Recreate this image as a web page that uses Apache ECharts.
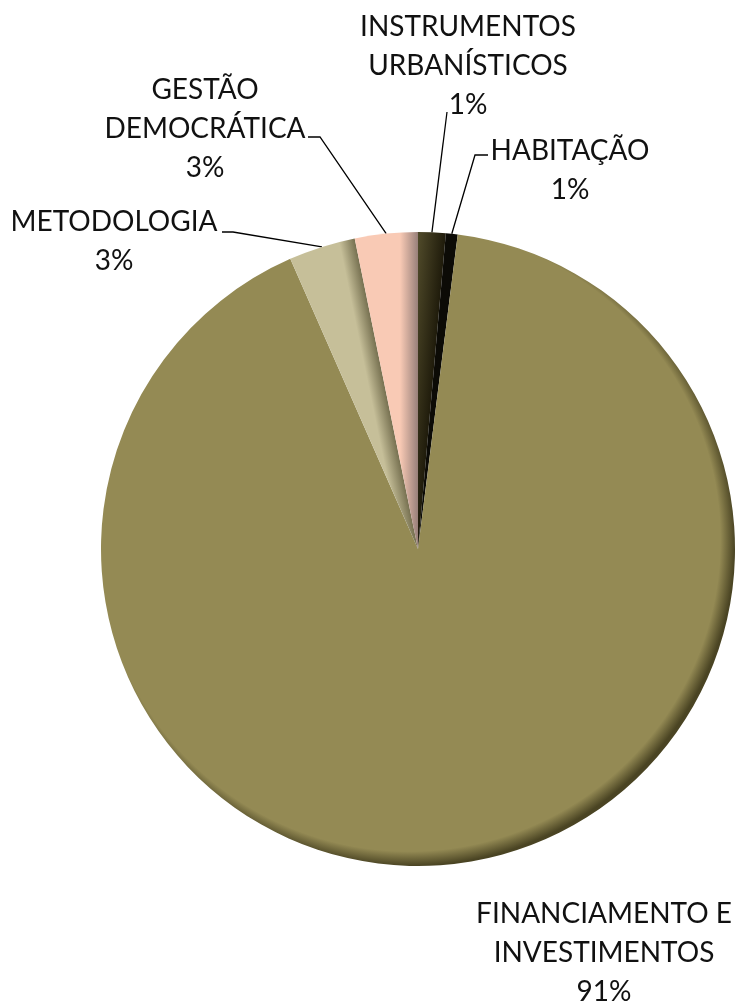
<!DOCTYPE html>
<html>
<head>
<meta charset="utf-8">
<script src="https://cdn.jsdelivr.net/npm/echarts@6/dist/echarts.min.js"></script>
<style>
html,body{margin:0;padding:0;background:#fff;}
#chart{width:737px;height:1005px;}
</style>
</head>
<body>
<div id="chart"></div>
<script>
// ---- data ----
const categories = [
  'INSTRUMENTOS\nURBANÍSTICOS',
  'HABITAÇÃO',
  'FINANCIAMENTO E\nINVESTIMENTOS',
  'METODOLOGIA',
  'GESTÃO\nDEMOCRÁTICA'
];
const values = [1.4, 0.6, 91.4, 3.4, 3.2];

// ---- styling (not data) ----
const baseColors = ['#58522F', '#0C0B06', '#948A54', '#C6BF99', '#F9CAB5'];
const darkColors = ['#1F1B0B', '#000000', '#4A4423', '#767050', '#98807A'];
const edgeWidth  = [32, 0, 0, 16, 18];   // dark band along clockwise edge (px)
const CX = 418, CY = 549, R = 317;
// label block centres and leader-line bends
const labelLayouts = [
  {x: 468, y: 66,  pts: [[447, 112]]},
  {x: 570, y: 170, pts: [[475, 155], [488, 155]]},
  {x: 604, y: 953, pts: null},
  {x: 114, y: 241, pts: [[233, 232], [222, 232]]},
  {x: 205, y: 129, pts: [[320, 137], [308, 137]]}
];

const total = values.reduce((a, b) => a + b, 0);
// clockwise end angle of each slice (deg from 12 o'clock)
const endAngles = [];
values.reduce((acc, v) => { const e = acc + v / total * 360; endAngles.push(e); return e; }, 0);

function sliceColor(i) {
  if (i === 2) {
    return {
      type: 'radial', x: CX - 9, y: CY - 9, r: R + 9, global: true,
      colorStops: [
        {offset: 0, color: baseColors[i]},
        {offset: 0.955, color: baseColors[i]},
        {offset: 1, color: darkColors[i]}
      ]
    };
  }
  if (!edgeWidth[i]) return baseColors[i];
  const a = endAngles[i] * Math.PI / 180;
  const nx = -Math.cos(a), ny = -Math.sin(a);
  const w = edgeWidth[i];
  return {
    type: 'linear', global: true,
    x: CX, y: CY, x2: CX + nx * w, y2: CY + ny * w,
    colorStops: [
      {offset: 0, color: darkColors[i]},
      {offset: 1, color: baseColors[i]}
    ]
  };
}

const chart = echarts.init(document.getElementById('chart'));
chart.setOption({
  animation: false,
  backgroundColor: '#ffffff',
  series: [{
    type: 'pie',
    center: [CX, CY],
    radius: R,
    startAngle: 90,
    clockwise: true,
    avoidLabelOverlap: false,
    data: categories.map((c, i) => ({
      name: c,
      value: values[i],
      itemStyle: {color: sliceColor(i)},
      labelLine: {show: labelLayouts[i].pts !== null}
    })),
    label: {
      show: true,
      position: 'outside',
      fontFamily: 'Lato',
      fontSize: 28,
      lineHeight: 39,
      color: '#111',
      align: 'center',
      formatter: p => p.name + '\n' + Math.round(p.value / total * 100) + '%'
    },
    labelLine: {
      show: true,
      lineStyle: {color: '#000', width: 1.3}
    },
    labelLayout: function (params) {
      const L = labelLayouts[params.dataIndex];
      const out = {x: L.x, y: L.y, align: 'center', verticalAlign: 'middle'};
      if (L.pts && params.labelLinePoints) {
        out.labelLinePoints = [params.labelLinePoints[0]].concat(L.pts);
      }
      return out;
    }
  }]
});
</script>
</body>
</html>
